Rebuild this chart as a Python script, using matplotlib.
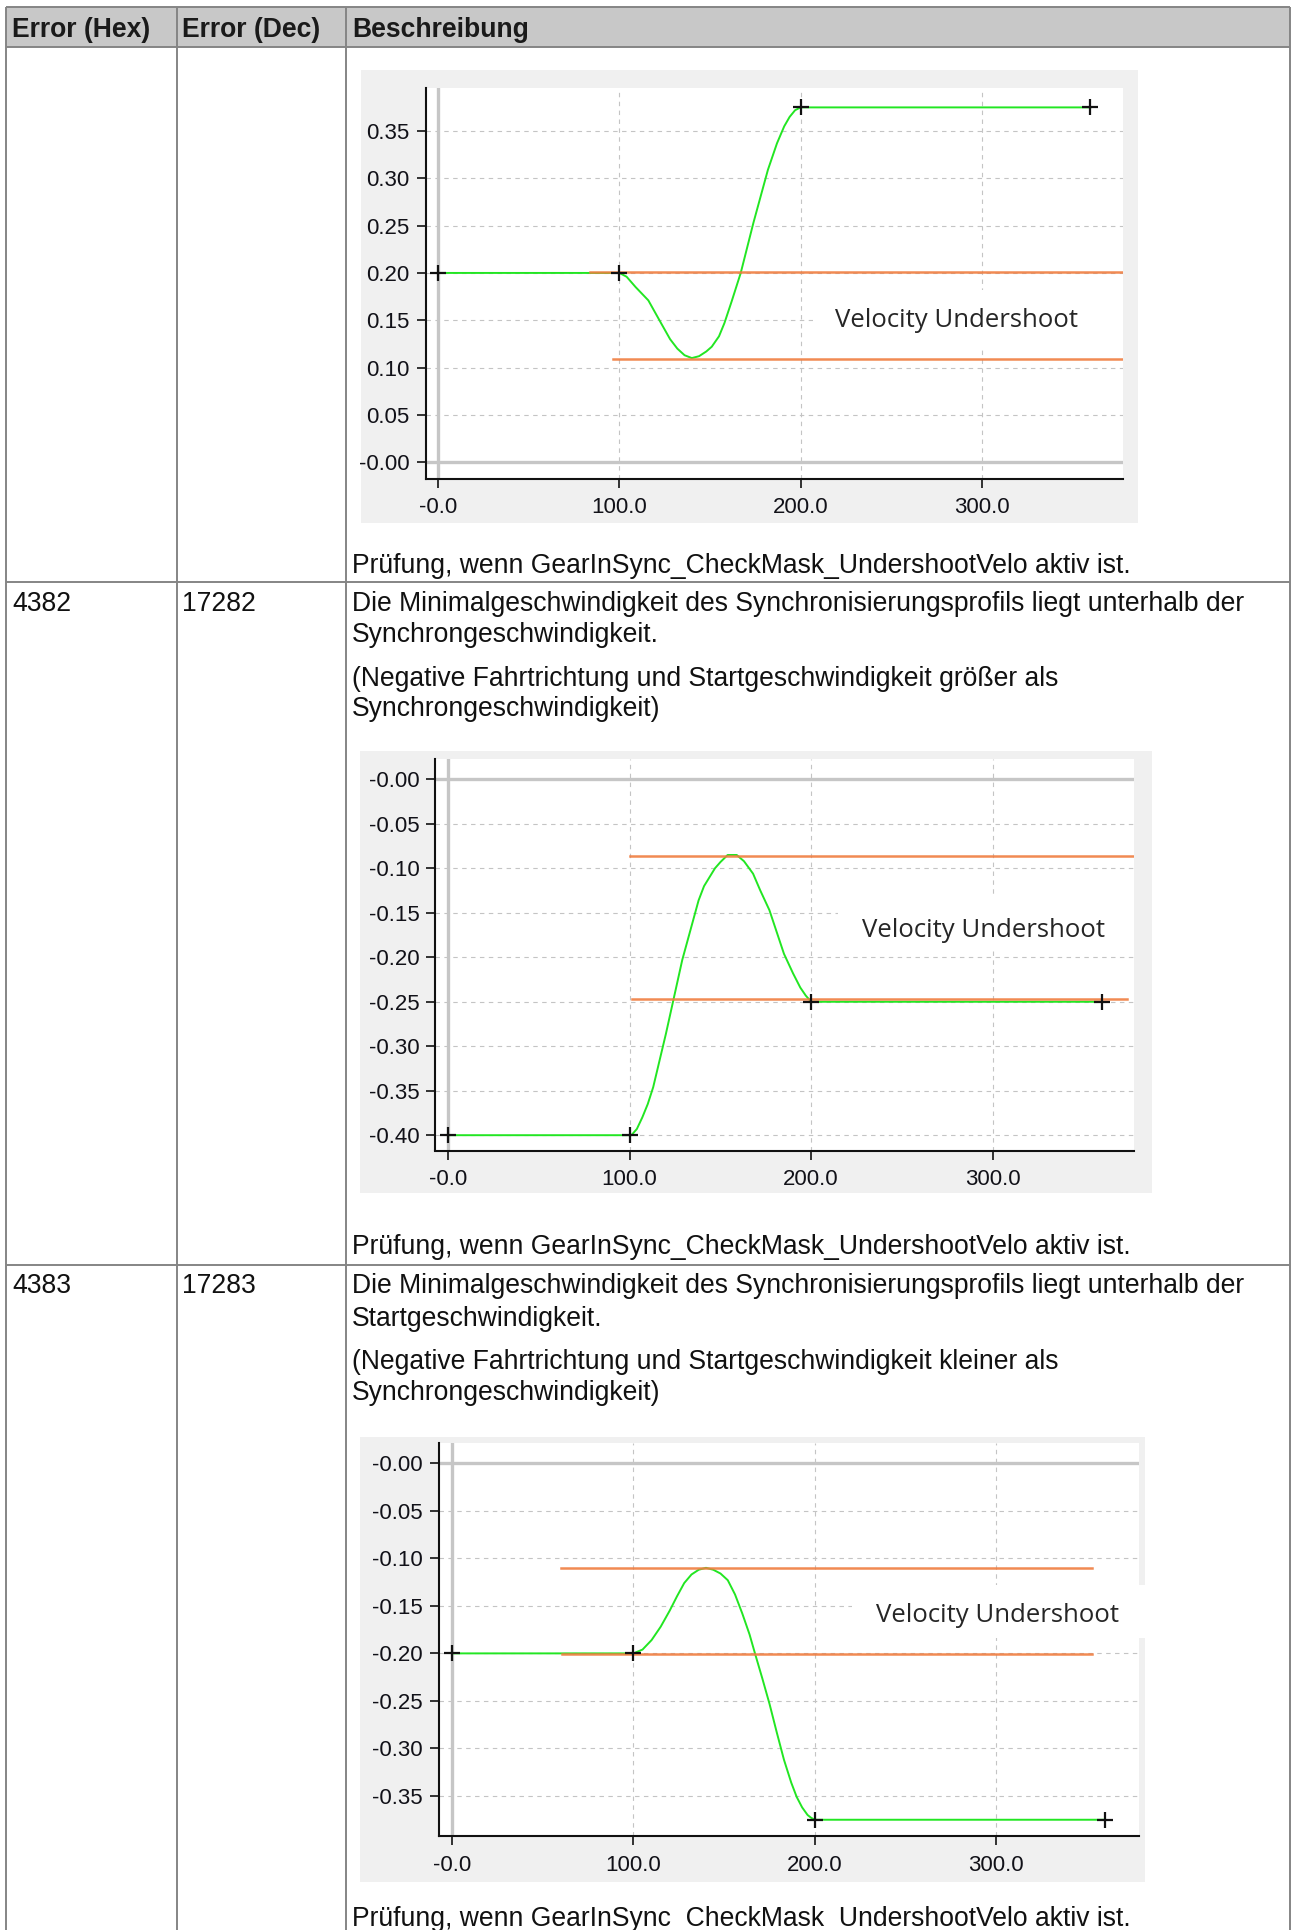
import matplotlib
matplotlib.use("Agg")
import matplotlib.pyplot as plt
from matplotlib.patches import Rectangle

W, H = 1293, 1930
DPI = 100

# ---- table content ----
header_labels = ["Error (Hex)", "Error (Dec)", "Beschreibung"]
row_hex = ["", "4382", "4383"]
row_dec = ["", "17282", "17283"]
row_desc = [
    [],
    ["Die Minimalgeschwindigkeit des Synchronisierungsprofils liegt unterhalb der",
     "Synchrongeschwindigkeit.",
     "(Negative Fahrtrichtung und Startgeschwindigkeit größer als",
     "Synchrongeschwindigkeit)"],
    ["Die Minimalgeschwindigkeit des Synchronisierungsprofils liegt unterhalb der",
     "Startgeschwindigkeit.",
     "(Negative Fahrtrichtung und Startgeschwindigkeit kleiner als",
     "Synchrongeschwindigkeit)"],
]
caption = "Prüfung, wenn GearInSync_CheckMask_UndershootVelo aktiv ist."
annotation = "Velocity Undershoot"

# ---- velocity profiles ----
x_ticks = [0, 100, 200, 300]
x_ticklabels = ["-0.0", "100.0", "200.0", "300.0"]

# chart A: positive direction
a_t = [0, 100, 104, 109, 116, 123, 128, 132, 136, 140, 144, 148, 151, 155, 158, 162, 167,
       174, 182, 187, 191, 194, 197, 200, 360]
a_v = [0.2, 0.2, 0.196, 0.185, 0.171, 0.147, 0.130, 0.120, 0.113, 0.110, 0.112, 0.117,
       0.122, 0.133, 0.147, 0.170, 0.200, 0.253, 0.309, 0.337, 0.355, 0.365, 0.372, 0.375,
       0.375]
a_marks_t = [0, 100, 200, 360]
a_marks_v = [0.2, 0.2, 0.375, 0.375]
a_limits = [(0.2013, 84, 380), (0.1085, 96.5, 380)]
a_yticks = [0.0, 0.05, 0.10, 0.15, 0.20, 0.25, 0.30, 0.35]
a_yticklabels = ["-0.00", "0.05", "0.10", "0.15", "0.20", "0.25", "0.30", "0.35"]

# chart B: negative direction, start faster than sync
b_t = [0, 100, 101, 104, 107, 110, 113, 120, 129, 138, 141, 144, 147, 150, 154, 159, 163,
       168, 172, 177, 185, 190, 194, 197, 200, 360]
b_v = [-0.4, -0.4, -0.4, -0.393, -0.38, -0.365, -0.346, -0.286, -0.203, -0.136, -0.120,
       -0.110, -0.100, -0.093, -0.085, -0.085, -0.092, -0.106, -0.125, -0.147, -0.196,
       -0.218, -0.234, -0.243, -0.25, -0.25]
b_marks_t = [0, 100, 200, 360]
b_marks_v = [-0.4, -0.4, -0.25, -0.25]
b_limits = [(-0.0863, 100, 380), (-0.2465, 101.5, 374)]
b_yticks = [0.0, -0.05, -0.10, -0.15, -0.20, -0.25, -0.30, -0.35, -0.40]
b_yticklabels = ["-0.00", "-0.05", "-0.10", "-0.15", "-0.20", "-0.25", "-0.30", "-0.35", "-0.40"]

# chart C: negative direction, start slower than sync
c_t = [0, 100, 105, 110, 115, 120, 124, 128, 132, 136, 140, 144, 148, 152, 156, 160, 164,
       167, 171, 175, 179, 183, 187, 190, 193, 196, 198, 200, 360]
c_v = [-0.2, -0.2, -0.196, -0.186, -0.172, -0.155, -0.140, -0.126, -0.117, -0.112, -0.110,
       -0.112, -0.116, -0.123, -0.138, -0.158, -0.180, -0.2, -0.226, -0.253, -0.283, -0.312,
       -0.336, -0.351, -0.362, -0.370, -0.373, -0.375, -0.375]
c_marks_t = [0, 100, 200, 360]
c_marks_v = [-0.2, -0.2, -0.375, -0.375]
c_limits = [(-0.1106, 60, 352.6), (-0.2008, 60.5, 352.6)]
c_yticks = [0.0, -0.05, -0.10, -0.15, -0.20, -0.25, -0.30, -0.35]
c_yticklabels = ["-0.00", "-0.05", "-0.10", "-0.15", "-0.20", "-0.25", "-0.30", "-0.35"]

plt.rcParams["font.family"] = ["Liberation Sans", "DejaVu Sans"]

fig = plt.figure(figsize=(W / DPI, H / DPI), dpi=DPI)
fig.patch.set_facecolor("white")

# page-level axes in pixel coordinates
page = fig.add_axes([0, 0, 1, 1])
page.set_xlim(0, W)
page.set_ylim(H, 0)
page.axis("off")

BORDER = "#858585"
TXT = 19.1

# header band
page.add_patch(Rectangle((6, 7), 1284, 40, facecolor="#c8c8c8", edgecolor="none", zorder=0))
for y in [7, 47, 582, 1265]:
    page.plot([6, 1290], [y, y], color=BORDER, lw=1.4, solid_capstyle="butt", zorder=2)
for x in [6, 177, 346, 1290]:
    page.plot([x, x], [7, H + 5], color=BORDER, lw=1.4, solid_capstyle="butt", zorder=2)

col_x = [12, 182, 352]
for x, lab in zip(col_x, header_labels):
    page.text(x, 37, lab, fontsize=TXT, fontweight="bold", color="#1a1a1a", va="baseline")

row_first = [None, 611, 1293]
row_lines = [None, [611, 642, 686, 716], [1293, 1326, 1369, 1400]]
for i in (1, 2):
    page.text(col_x[0], row_first[i], row_hex[i], fontsize=TXT, color="#111111", va="baseline")
    page.text(col_x[1], row_first[i], row_dec[i], fontsize=TXT, color="#111111", va="baseline")
    for yb, line in zip(row_lines[i], row_desc[i]):
        page.text(col_x[2], yb, line, fontsize=TXT, color="#111111", va="baseline")

for yb in [573, 1254, 1926]:
    page.text(col_x[2], yb, caption, fontsize=TXT, color="#111111", va="baseline")


def px_axes(l, t, r, b):
    return fig.add_axes([l / W, 1 - b / H, (r - l) / W, (b - t) / H])


def draw_chart(box, area, xlim, ylim, t, v, mt, mv, limits, yticks, ylabels, txt_xy, white_box):
    bl, bt, br, bb = box
    page.add_patch(Rectangle((bl, bt), br - bl, bb - bt, facecolor="#f0f0f0",
                             edgecolor="none", zorder=1))
    ax = px_axes(*area)
    ax.set_facecolor("white")
    ax.set_xlim(*xlim)
    ax.set_ylim(*ylim)
    for s in ["top", "right"]:
        ax.spines[s].set_visible(False)
    for s in ["left", "bottom"]:
        ax.spines[s].set_color("#111111")
        ax.spines[s].set_linewidth(1.5)
    ax.set_xticks(x_ticks)
    ax.set_xticklabels(x_ticklabels)
    ax.set_yticks(yticks)
    ax.set_yticklabels(ylabels)
    ax.tick_params(axis="both", direction="out", length=6.5, width=1.2, color="#111111",
                   labelsize=16, labelcolor="#111118")
    ax.tick_params(axis="y", pad=5)
    ax.tick_params(axis="x", pad=7)

    # dashed grid (the zero lines are drawn separately, solid and thick)
    for xv in x_ticks[1:]:
        ax.axvline(xv, color="#c4c4c4", lw=0.8, ls=(0, (4, 4)), zorder=0.5)
    for yv in yticks:
        if yv != 0:
            ax.axhline(yv, color="#c4c4c4", lw=0.8, ls=(0, (4, 4)), zorder=0.5)
    ax.axhline(0, color="#c6c6c6", lw=2.4, zorder=0.6)
    ax.axvline(0, color="#c6c6c6", lw=2.4, zorder=0.6)

    # white background behind the annotation
    wx0, wy0, wx1, wy1 = white_box
    ax.add_patch(Rectangle((wx0, wy0), wx1 - wx0, wy1 - wy0, facecolor="white",
                           edgecolor="none", zorder=0.8, clip_on=False))
    ax.text(txt_xy[0], txt_xy[1], annotation, fontsize=18.5, family=["Open Sans", "DejaVu Sans"],
            color="#262626", ha="center", va="center", zorder=3)

    ax.plot(t, v, color="#22e622", lw=1.4, zorder=2)
    for lvl, x0, x1 in limits:
        ax.plot([x0, x1], [lvl, lvl], color="#f07d40", lw=1.8, alpha=0.9, zorder=2.5)
    ax.plot(mt, mv, ls="none", marker="+", ms=12, mew=1.6, color="#111111", zorder=4,
            clip_on=False)
    return ax


draw_chart((361, 70, 1138, 523), (425.5, 88, 1123, 478.5), (-7, 378), (-0.0173, 0.3955),
           a_t, a_v, a_marks_t, a_marks_v, a_limits, a_yticks, a_yticklabels,
           (286, 0.150), (207, 0.1183, 378, 0.1819))
draw_chart((360, 751, 1152, 1193), (435.5, 759, 1134, 1150.5), (-6.9, 377.8), (-0.4172, 0.0229),
           b_t, b_v, b_marks_t, b_marks_v, b_limits, b_yticks, b_yticklabels,
           (295, -0.1697), (215, -0.192, 377.8, -0.130))
draw_chart((360, 1437, 1145, 1882), (439, 1443.3, 1138.6, 1836), (-7.2, 378.5), (-0.3921, 0.021),
           c_t, c_v, c_marks_t, c_marks_v, c_limits, c_yticks, c_yticklabels,
           (300.7, -0.1597), (220.4, -0.184, 384.8, -0.128))

fig.savefig("out.png", dpi=DPI, facecolor="white")
